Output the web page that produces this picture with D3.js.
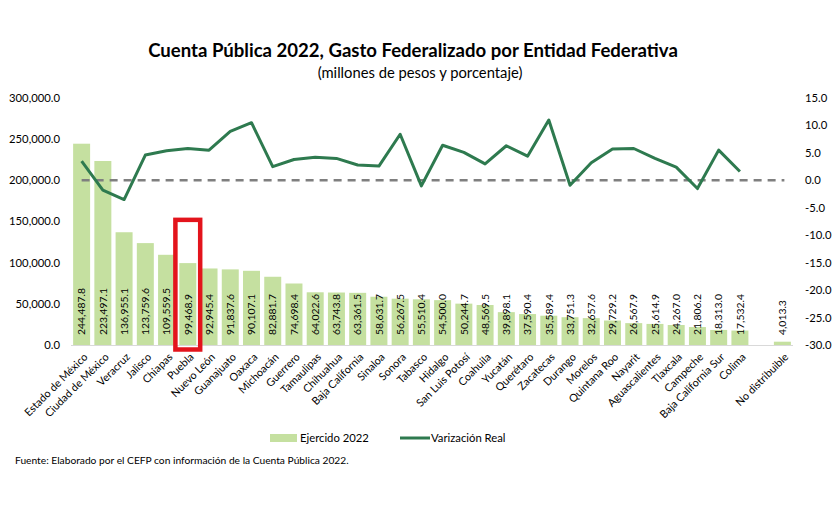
<!DOCTYPE html>
<html><head><meta charset="utf-8">
<script src="https://cdn.jsdelivr.net/npm/d3@7"></script>
<style>body{margin:0;background:#fff}text{font-family:Lato,"Open Sans",sans-serif}</style>
</head><body><svg id="c" width="839" height="514"></svg>
<script>
const categories = ["Estado de México","Ciudad de México","Veracruz","Jalisco","Chiapas","Puebla","Nuevo León","Guanajuato","Oaxaca","Michoacán","Guerrero","Tamaulipas","Chihuahua","Baja California","Sinaloa","Sonora","Tabasco","Hidalgo","San Luis Potosí","Coahuila","Yucatán","Querétaro","Zacatecas","Durango","Morelos","Quintana Roo","Nayarit","Aguascalientes","Tlaxcala","Campeche","Baja California Sur","Colima","","No distribuible"];
const ejercido = [244487.8,223497.1,136955.1,123759.6,109559.5,99468.9,92945.4,91837.6,90107.1,82881.7,74698.4,64022.6,63743.8,63361.5,58631.7,56267.5,55510.4,54500.0,50244.7,48569.5,39898.1,37590.4,35589.4,33751.3,32657.6,29729.2,26567.9,25614.9,24267.0,21806.2,18313.0,17532.4,null,4013.3];
const variacion = [3.5,-1.8,-3.5,4.6,5.4,5.8,5.5,8.9,10.5,2.5,3.8,4.2,4.0,2.8,2.6,8.4,-1.0,6.4,5.1,3.0,6.3,4.4,11.0,-0.9,3.2,5.7,5.8,4.0,2.4,-1.5,5.5,1.6,null,null];
const leftTicks = [0,50000,100000,150000,200000,250000,300000];
const rightTicks = [-30,-25,-20,-15,-10,-5,0,5,10,15];
const highlight = "Puebla";
const titleText = "Cuenta Pública 2022, Gasto Federalizado por Entidad Federativa";
const subtitleText = "(millones de pesos y porcentaje)";
const sourceText = "Fuente: Elaborado por el CEFP con información de la Cuenta Pública 2022.";
const legendBar = "Ejercido 2022";
const legendLine = "Varización Real";

const W=839,H=514;
const svg=d3.select("#c");
svg.append("rect").attr("width",W).attr("height",H).attr("fill","#fff");

function fit(sel, sample, target){
  const t = svg.append("text").style("font-size","20px").style("font-weight",sel.style("font-weight")).text(sample);
  const w = t.node().getComputedTextLength(); t.remove();
  sel.style("font-size",(20*target/w).toFixed(2)+"px");
  return 20*target/w;
}
function fitSize(sample,target,weight){
  const t = svg.append("text").style("font-size","20px").style("font-weight",weight||400).text(sample);
  const w = t.node().getComputedTextLength(); t.remove();
  return 20*target/w;
}
const fmt = v => d3.format(",.1f")(v).replace("−","-");
const fmtP = v => d3.format(".1f")(v).replace("−","-");

const x=d3.scaleBand().domain(d3.range(categories.length)).range([71,793]).paddingInner(0.2).paddingOuter(0.1);
const y=d3.scaleLinear().domain([0,300000]).range([345,98]);
const y2=d3.scaleLinear().domain([-30,15]).range([345,98]);
const cx=i=>x(i)+x.bandwidth()/2;

// title
const tfs=fitSize(titleText,530,700);
svg.append("text").attr("x",413).attr("y",57).attr("text-anchor","middle").style("font-weight",700).style("font-size",tfs+"px").attr("fill","#000").text(titleText);
const sfs=fitSize(subtitleText,205);
svg.append("text").attr("x",420).attr("y",78).attr("text-anchor","middle").style("font-size",sfs+"px").attr("fill","#000").text(subtitleText);

// baseline
svg.append("line").attr("x1",71).attr("x2",793).attr("y1",y(0)+0.5).attr("y2",y(0)+0.5).attr("stroke","#d9d9d9").attr("stroke-width",1);

// bars
const idx=d3.range(categories.length).filter(i=>ejercido[i]!=null);
svg.append("g").selectAll("rect").data(idx).join("rect")
  .attr("x",i=>x(i)).attr("width",x.bandwidth())
  .attr("y",i=>y(ejercido[i])).attr("height",i=>y(0)-y(ejercido[i]))
  .attr("fill","#c5e0a0");

// bar labels
const bfs=fitSize("244,487.8",47);
svg.append("g").selectAll("text").data(idx).join("text")
  .attr("transform",i=>`translate(${cx(i)+bfs*0.36},${y(0)-10}) rotate(-90)`)
  .style("font-size",bfs+"px").attr("fill","#000").text(i=>fmt(ejercido[i]));

// zero dashed line
const li=d3.range(categories.length);
svg.append("line").attr("x1",cx(0)).attr("x2",cx(categories.length-1)+2).attr("y1",y2(0)).attr("y2",y2(0))
  .attr("stroke","#7f7f7f").attr("stroke-width",2.5).attr("stroke-dasharray","8,6");

// variation line
const line=d3.line().defined(i=>variacion[i]!=null).x(cx).y(i=>y2(variacion[i]));
svg.append("path").datum(li).attr("d",line).attr("fill","none").attr("stroke","#2e7a4f").attr("stroke-width",3).attr("stroke-linejoin","round");

// left axis
const afs=fitSize("300,000.0",51);
svg.append("g").selectAll("text").data(leftTicks).join("text")
  .attr("x",60).attr("y",d=>y(d)).attr("dy","0.35em").attr("text-anchor","end")
  .style("font-size",afs+"px").attr("fill","#000").text(fmt);
// right axis
svg.append("g").selectAll("text").data(rightTicks).join("text")
  .attr("x",805).attr("y",d=>y2(d)).attr("dy","0.35em").attr("text-anchor","start")
  .style("font-size",afs+"px").attr("fill","#000").text(fmtP);

// x labels
const xfs=fitSize("Estado de México",84);
svg.append("g").selectAll("text").data(li.filter(i=>categories[i])).join("text")
  .attr("transform",i=>`translate(${cx(i)+4},${y(0)+10}) rotate(-45)`)
  .attr("text-anchor","end").attr("dy","0.35em")
  .style("font-size",xfs+"px").attr("fill","#000").text(i=>categories[i]);

// highlight box
const hi=categories.indexOf(highlight);
svg.append("rect").attr("x",x(hi)-3.9).attr("width",x.bandwidth()+7.8)
  .attr("y",y(152000)).attr("height",y(0)+4.5-y(152000))
  .attr("fill","none").attr("stroke","#e3141c").attr("stroke-width",4.5);

// legend
const lfs=fitSize(legendBar,69);
svg.append("rect").attr("x",270).attr("y",434).attr("width",27).attr("height",8).attr("fill","#c5e0a0");
svg.append("text").attr("x",300).attr("y",438).attr("dy","0.35em").style("font-size",lfs+"px").attr("fill","#000").text(legendBar);
svg.append("line").attr("x1",400).attr("x2",430).attr("y1",438).attr("y2",438).attr("stroke","#2e7a4f").attr("stroke-width",3);
svg.append("text").attr("x",431).attr("y",438).attr("dy","0.35em").style("font-size",lfs+"px").attr("fill","#000").text(legendLine);

// source
const ffs=fitSize(sourceText,334);
svg.append("text").attr("x",15).attr("y",464).style("font-size",ffs+"px").attr("fill","#000").text(sourceText);
</script></body></html>
